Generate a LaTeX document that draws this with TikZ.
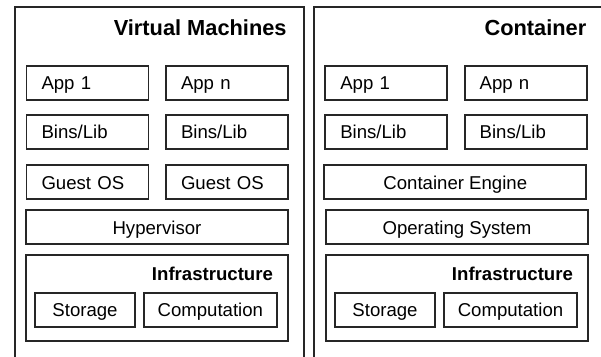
\documentclass[tikz,border=0pt]{standalone}
\usepackage{fontspec}
\setmainfont{Liberation Sans}

\newcommand{\boxfont}{\fontsize{9.3}{11}\selectfont}
\newcommand{\headfont}{\fontsize{10.9}{13}\selectfont\bfseries}

\tikzset{
  panel/.style={draw=black!85, line width=1pt, anchor=north west, minimum height=200pt},
  box/.style={draw=black!85, line width=0.9pt, minimum height=17pt, text height=6.66pt, text depth=0pt, font=\boxfont},
  slot/.style={box, minimum width=61pt, inner xsep=7.5pt, text width=46pt, align=left},
  layer/.style={box, minimum width=131pt},
  part/.style={box, inner sep=0pt},
  head/.style={anchor=east, inner sep=0pt, text height=7.8pt, text depth=0pt, font=\headfont},
  subhead/.style={anchor=east, inner sep=0pt, text height=6.7pt, text depth=0pt, font=\boxfont\bfseries}
}

\begin{document}
\begin{tikzpicture}[x=0.5pt,y=-0.5pt]
\clip (0,0) rectangle (601,357);

% virtual machines
\node[panel, minimum width=144.5pt] (vm) at (14,6.5) {};
\node[head] (vmtitle) at (287,28) {Virtual Machines};
\node[slot] (vmapp1) at (87.5,83) {App 1};
\node[slot] (vmappn) at (227,83) {App n};
\node[slot] (vmbins1) at (87.5,132) {Bins/Lib};
\node[slot] (vmbinsn) at (227,132) {Bins/Lib};
\node[slot] (vmguest1) at (87.5,182.4) {Guest OS};
\node[slot] (vmguestn) at (227,182.4) {Guest OS};
\node[layer] (hyper) at (157,227.4) {Hypervisor};
\node[layer, minimum height=43pt] (vminfra) at (157,298) {};
\node[subhead] (vminfratitle) at (273.3,273.7) {Infrastructure};
\node[part, minimum width=50pt] (vmstore) at (85,310) {Storage};
\node[part, minimum width=66.7pt] (vmcomp) at (210.3,310) {Computation};

% containers
\node[panel, minimum width=160pt] (ct) at (313,6.5) {};
\node[head] (cttitle) at (586.7,28) {Container};
\node[slot] (ctapp1) at (386.3,83) {App 1};
\node[slot] (ctappn) at (525.7,83) {App n};
\node[slot] (ctbins1) at (386.3,132) {Bins/Lib};
\node[slot] (ctbinsn) at (525.7,132) {Bins/Lib};
\node[layer] (engine) at (455.3,182.4) {Container Engine};
\node[layer] (os) at (457,227.4) {Operating System};
\node[layer, minimum height=43pt] (ctinfra) at (457,298) {};
\node[subhead] (ctinfratitle) at (573.3,273.7) {Infrastructure};
\node[part, minimum width=50pt] (ctstore) at (385,310) {Storage};
\node[part, minimum width=66.7pt] (ctcomp) at (510.5,310) {Computation};
\end{tikzpicture}
\end{document}
